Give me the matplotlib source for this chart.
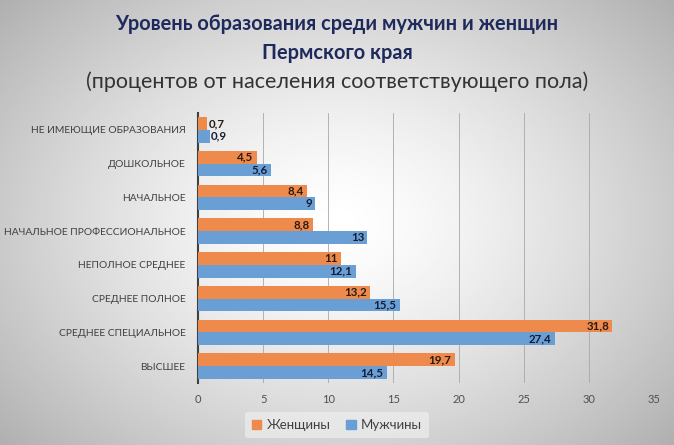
import numpy as np
import matplotlib
matplotlib.use('Agg')
import matplotlib.pyplot as plt
from matplotlib.patches import Patch

# Данные
categories = ['НЕ ИМЕЮЩИЕ ОБРАЗОВАНИЯ', 'ДОШКОЛЬНОЕ', 'НАЧАЛЬНОЕ',
              'НАЧАЛЬНОЕ ПРОФЕССИОНАЛЬНОЕ', 'НЕПОЛНОЕ СРЕДНЕЕ',
              'СРЕДНЕЕ ПОЛНОЕ', 'СРЕДНЕЕ СПЕЦИАЛЬНОЕ', 'ВЫСШЕЕ']
women = [0.7, 4.5, 8.4, 8.8, 11, 13.2, 31.8, 19.7]
men = [0.9, 5.6, 9, 13, 12.1, 15.5, 27.4, 14.5]
series_names = ['Женщины', 'Мужчины']
xticks = [0, 5, 10, 15, 20, 25, 30, 35]

orange = '#EE8A4C'
blue = '#6A9FD6'

plt.rcParams['font.family'] = ['Lato', 'DejaVu Sans']

fig = plt.figure(figsize=(6.74, 4.45), dpi=100)

# фон с радиальным градиентом
bg = fig.add_axes([0, 0, 1, 1], zorder=-10)
yy, xx = np.mgrid[-1:1:300j, -1:1:450j]
r = np.sqrt((xx * 0.9) ** 2 + (yy * 0.8) ** 2)
img = 1.0 - 0.24 * np.clip(r, 0, 1.3) ** 1.4
bg.imshow(img, cmap='gray', vmin=0, vmax=1, aspect='auto', extent=[0, 1, 0, 1])
bg.axis('off')

ax = fig.add_axes([198 / 674, 1 - 383 / 445, 456 / 674, 270 / 445])
ax.patch.set_alpha(0)

y = np.arange(len(categories))
h = 0.38
ax.barh(y - h / 2, women, height=h, color=orange, label=series_names[0], zorder=3)
ax.barh(y + h / 2, men, height=h, color=blue, label=series_names[1], zorder=3)

def fmt(v):
    s = ('%g' % v).replace('.', ',')
    return s

for vals, off, tc in [(women, -h / 2, '#2a1a10'), (men, h / 2, '#141c33')]:
    for i, v in enumerate(vals):
        if v > 2:
            ax.text(v - 0.25, i + off, fmt(v), ha='right', va='center',
                    fontsize=8.3, fontweight='bold', color=tc, zorder=4)
        else:
            ax.text(v + 0.1, i + off, fmt(v), ha='left', va='center',
                    fontsize=8.3, fontweight='bold', color=tc, zorder=4)

ax.set_xlim(0, 35)
ax.set_ylim(len(categories) - 0.5, -0.5)
ax.set_xticks(xticks)
ax.set_xticklabels([str(t) for t in xticks], fontsize=8, color='#505050')
ax.set_yticks(y)
ax.set_yticklabels(categories, fontsize=7.4, color='#404040')
ax.tick_params(axis='both', length=0, pad=8)
ax.tick_params(axis='y', pad=9)
ax.grid(axis='x', color='#a8a8a8', linewidth=0.6, zorder=0)
for s in ['top', 'right', 'bottom']:
    ax.spines[s].set_visible(False)
ax.spines['left'].set_color('#404040')
ax.spines['left'].set_linewidth(1.5)

fig.text(0.5, 1 - 24 / 445, 'Уровень образования среди мужчин и женщин',
         ha='center', va='center', fontsize=14.4, fontweight='bold', color='#1F2A5C')
fig.text(0.5, 1 - 53 / 445, 'Пермского края',
         ha='center', va='center', fontsize=14.4, fontweight='bold', color='#1F2A5C')
fig.text(0.5, 1 - 82 / 445, '(процентов от населения соответствующего пола)',
         ha='center', va='center', fontsize=15.5, color='#333333')

handles = [Patch(color=orange), Patch(color=blue)]
leg = fig.legend(handles, series_names, loc='center', bbox_to_anchor=(337 / 674, 1 - 425 / 445),
                 ncol=2, fontsize=9.5, frameon=True, handlelength=0.7, handleheight=0.7,
                 handletextpad=0.4, columnspacing=1.2, borderpad=0.55)
leg.get_frame().set_facecolor('#eeeeee')
leg.get_frame().set_edgecolor('none')
leg.get_frame().set_alpha(0.7)
for t in leg.get_texts():
    t.set_color('#404040')

fig.savefig('out.png', dpi=100)
